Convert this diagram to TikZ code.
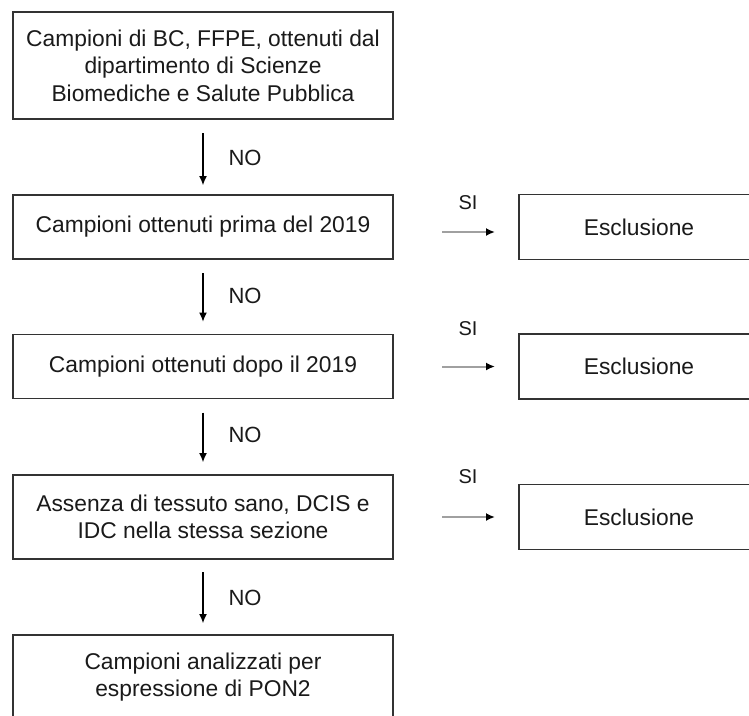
\documentclass[tikz,border=0pt]{standalone}
\usepackage{fontspec}
\setmainfont{Liberation Sans}
\usetikzlibrary{arrows.meta}
\definecolor{txt}{HTML}{1A1A1A}
\definecolor{bord}{HTML}{333333}
\definecolor{harr}{HTML}{A0A0A0}
\begin{document}
\begin{tikzpicture}[x=1pt,y=-1pt,
  box/.style={draw=bord,line width=1.5pt,inner sep=0pt,outer sep=0pt,align=center,text=txt,font=\fontsize{22.8}{27.5}\selectfont},
  lbox/.style={box,minimum width=380pt},
  rbox/.style={box,minimum width=240pt,minimum height=65pt},
  varr/.style={draw=black,line width=1.1pt,-{Latex[length=9pt,width=8pt]}},
  harrow/.style={draw=harr,line width=2pt,-{Latex[length=9pt,width=8pt,color=black]},shorten <=49pt,shorten >=24pt},
  lbl/.style={text=txt,inner sep=0pt,font=\fontsize{22}{26}\selectfont}]
\clip (0,0) rectangle (749,715);
\fill[white] (0,0) rectangle (749,715);
% left column
\node[lbox,minimum height=107pt] (b1) at (203,65.5) {Campioni di BC, FFPE, ottenuti dal\\dipartimento di Scienze\\Biomediche e Salute Pubblica};
\node[lbox,minimum height=64pt] (b2) at (203,227) {Campioni ottenuti prima del 2019};
\node[lbox,minimum height=64pt] (b3) at (203,366.5) {Campioni ottenuti dopo il 2019};
\node[lbox,minimum height=84pt] (b4) at (203,517) {Assenza di tessuto sano, DCIS e\\IDC nella stessa sezione};
\node[lbox,minimum height=84pt] (b5) at (203,677) {Campioni analizzati per\\espressione di PON2};
% right column
\node[rbox] (r1) at (639,227) {Esclusione};
\node[rbox] (r2) at (639,366.5) {Esclusione};
\node[rbox] (r3) at (639,517) {Esclusione};
% vertical arrows
\draw[varr,shorten <=14pt,shorten >=10pt] (b1) -- (b2);
\draw[varr,shorten <=14pt,shorten >=13pt] (b2) -- (b3);
\draw[varr,shorten <=14pt,shorten >=13pt] (b3) -- (b4);
\draw[varr,shorten <=13pt,shorten >=12pt] (b4) -- (b5);
\node[lbl] (no1) at (245,158) {NO};
\node[lbl] (no2) at (245,296) {NO};
\node[lbl] (no3) at (245,435) {NO};
\node[lbl] (no4) at (245,598) {NO};
% horizontal arrows
\draw[harrow] ([yshift=-5pt]b2.east) -- ([yshift=-5pt]r1.west);
\draw[harrow] (b3.east) -- (r2.west);
\draw[harrow] (b4.east) -- (r3.west);
\node[lbl,font=\fontsize{20}{24}\selectfont] (si1) at (468,203) {SI};
\node[lbl,font=\fontsize{20}{24}\selectfont] (si2) at (468,329) {SI};
\node[lbl,font=\fontsize{20}{24}\selectfont] (si3) at (468,477) {SI};
\end{tikzpicture}
\end{document}
